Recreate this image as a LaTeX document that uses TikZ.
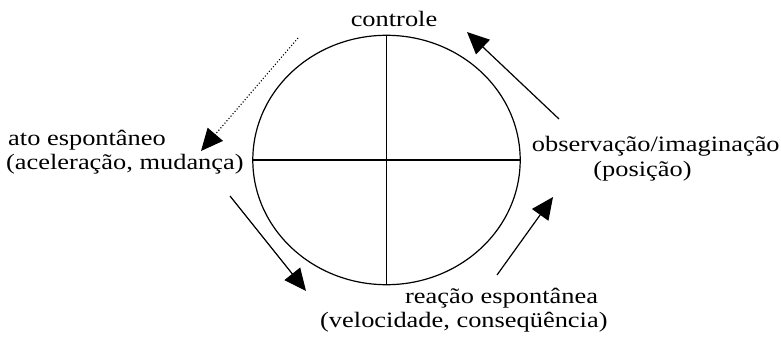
\documentclass[tikz,border=0pt]{standalone}
\usepackage{fontspec}
\setmainfont{Liberation Serif}[FakeStretch=1.2]
\usetikzlibrary{arrows.meta,shapes.geometric}
\begin{document}
\begin{tikzpicture}[x=1pt,y=-1pt,
  lbl/.style={inner sep=0pt,font=\fontsize{22}{24}\selectfont},
  arr/.style={line width=1.2pt,-{Triangle[length=22pt,width=20pt]}},
  dotarr/.style={line width=1.1pt,dotted,-{Triangle[length=22pt,width=20pt]}}]
\useasboundingbox (0,0) rectangle (781,339);
\node[draw,ellipse,line width=1.2pt,inner sep=0pt,minimum width=267.4pt,minimum height=249.4pt] (circ) at (386.5,160) {};
\draw[line width=1.2pt] (circ.west) -- (circ.east);
\draw[line width=1.2pt] (circ.north) -- (circ.south);
\node[lbl,anchor=base] (ctl) at (394,26.7) {controle};
\node[lbl,anchor=base west] (ato1) at (8,146) {ato espontâneo};
\node[lbl,anchor=base west] (ato2) at (6,170) {(aceleração, mudança)};
\node[lbl,anchor=base west] (obs1) at (531.7,152) {observação/imaginação};
\node[lbl,anchor=base] (obs2) at (642.5,176) {(posição)};
\node[lbl,anchor=base west] (rea1) at (405,303) {reação espontânea};
\node[lbl,anchor=base west] (rea2) at (320,327) {(velocidade, conseqüência)};
\coordinate (a1s) at (559,119); \coordinate (a1e) at (467,32);
\coordinate (a2s) at (497,275); \coordinate (a2e) at (553,197);
\coordinate (a3s) at (230,196); \coordinate (a3e) at (306,291);
\coordinate (a4s) at (298,38);  \coordinate (a4e) at (201,151);
\draw[arr] (a1s) -- (a1e);
\draw[arr] (a2s) -- (a2e);
\draw[arr] (a3s) -- (a3e);
\draw[dotarr] (a4s) -- (a4e);
\end{tikzpicture}
\end{document}
